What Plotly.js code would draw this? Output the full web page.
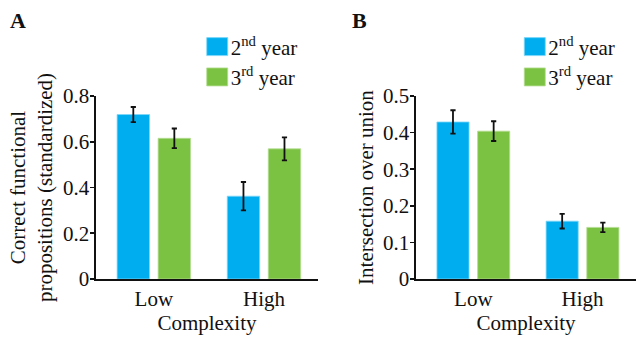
<!DOCTYPE html>
<html>
<head>
<meta charset="utf-8">
<script src="https://cdn.plot.ly/plotly-3.0.1.min.js"></script>
<style>html,body{margin:0;padding:0;background:#fff;}#chart{width:636px;height:337px;}</style>
</head>
<body>
<div id="chart"></div>
<script>
// Data
const categories = ["Low", "High"];
const seriesNames = ["2<sup>nd</sup> year", "3<sup>rd</sup> year"];
// Panel A: Correct functional propositions (standardized)
const panelA_year2 = [0.719, 0.362];
const panelA_year2_err = [0.033, 0.062];
const panelA_year3 = [0.615, 0.569];
const panelA_year3_err = [0.043, 0.050];
// Panel B: Intersection over union
const panelB_year2 = [0.429, 0.158];
const panelB_year2_err = [0.032, 0.020];
const panelB_year3 = [0.404, 0.141];
const panelB_year3_err = [0.027, 0.013];
const yTicksA = [0, 0.2, 0.4, 0.6, 0.8];
const yTickTextA = ["0", "0.2", "0.4", "0.6", "0.8"];
const yTicksB = [0, 0.1, 0.2, 0.3, 0.4, 0.5];
const yTickTextB = ["0", "0.1", "0.2", "0.3", "0.4", "0.5"];

const BLUE = "#00aeef";
const GREEN = "#7cc242";
const FONT = "Liberation Serif";

function bar(x, y, err, name, color, xa, ya, legend, showlegend) {
  return {
    type: "bar", x: x, y: y, name: name,
    marker: {color: color, line: {color: color === BLUE ? "#7fd6f7" : "#b5dd93", width: 0.8}},
    error_y: {type: "data", array: err, visible: true, color: "#111", thickness: 1.8, width: 2.6},
    xaxis: xa, yaxis: ya, legend: legend, showlegend: showlegend
  };
}

const data = [
  bar(categories, panelA_year2, panelA_year2_err, seriesNames[0], BLUE, "x", "y", "legend", true),
  bar(categories, panelA_year3, panelA_year3_err, seriesNames[1], GREEN, "x", "y", "legend", true),
  bar(categories, panelB_year2, panelB_year2_err, seriesNames[0], BLUE, "x2", "y2", "legend2", true),
  bar(categories, panelB_year3, panelB_year3_err, seriesNames[1], GREEN, "x2", "y2", "legend2", true)
];

const tf = {family: FONT, size: 21, color: "#111"};
const axisCommon = {
  showline: true, linecolor: "#111", linewidth: 1.6,
  showgrid: false, zeroline: false,
  tickfont: tf,
  fixedrange: true
};

const layout = {
  width: 636, height: 337,
  margin: {l: 96, r: 0, t: 96, b: 58, pad: 0},
  paper_bgcolor: "#fff", plot_bgcolor: "#fff",
  font: {family: FONT, color: "#111", size: 21},
  barmode: "group", bargap: 0.255, bargroupgap: 0.21,
  xaxis: Object.assign({}, axisCommon, {
    domain: [0, 0.411], range: [-0.525, 1.49], ticks: "",
    title: {text: "Complexity", font: tf, standoff: 0}
  }),
  yaxis: Object.assign({}, axisCommon, {
    range: [0, 0.8], tickvals: yTicksA, ticktext: yTickTextA,
    ticks: "outside", ticklen: 4, tickwidth: 1.6, tickcolor: "#111", ticklabelstandoff: -3,
    title: {text: "Correct functional<br>propositions (standardized)", font: tf, standoff: 4}
  }),
  xaxis2: Object.assign({}, axisCommon, {
    domain: [0.5926, 1], range: [-0.525, 1.49], ticks: "", anchor: "y2",
    title: {text: "Complexity", font: tf, standoff: 0}
  }),
  yaxis2: Object.assign({}, axisCommon, {
    anchor: "x2", range: [0, 0.5], tickvals: yTicksB, ticktext: yTickTextB,
    ticks: "outside", ticklen: 4, tickwidth: 1.6, tickcolor: "#111", ticklabelstandoff: -3,
    title: {text: "Intersection over union", font: tf, standoff: 3}
  }),
  legend: {x: 0.1754, y: 1.38, xanchor: "left", yanchor: "top", bgcolor: "rgba(0,0,0,0)",
    font: tf, tracegroupgap: 0},
  legend2: {x: 0.7635, y: 1.38, xanchor: "left", yanchor: "top", bgcolor: "rgba(0,0,0,0)",
    font: tf, tracegroupgap: 0},
  annotations: [
    {text: "<b>A</b>", xref: "paper", yref: "paper", x: -0.145, y: 1.41, xanchor: "center", yanchor: "middle", showarrow: false, font: {family: FONT, size: 22, color: "#111"}},
    {text: "<b>B</b>", xref: "paper", yref: "paper", x: 0.488, y: 1.41, xanchor: "center", yanchor: "middle", showarrow: false, font: {family: FONT, size: 22, color: "#111"}}
  ]
};

Plotly.newPlot("chart", data, layout, {staticPlot: true, displayModeBar: false}).then(function(gd) {
  // enlarge legend swatches to match the reference
  gd.querySelectorAll(".legendpoints path").forEach(function(p) {
    p.setAttribute("d", "M17,9H-4V-9H17Z");
  });
});
</script>
</body>
</html>
